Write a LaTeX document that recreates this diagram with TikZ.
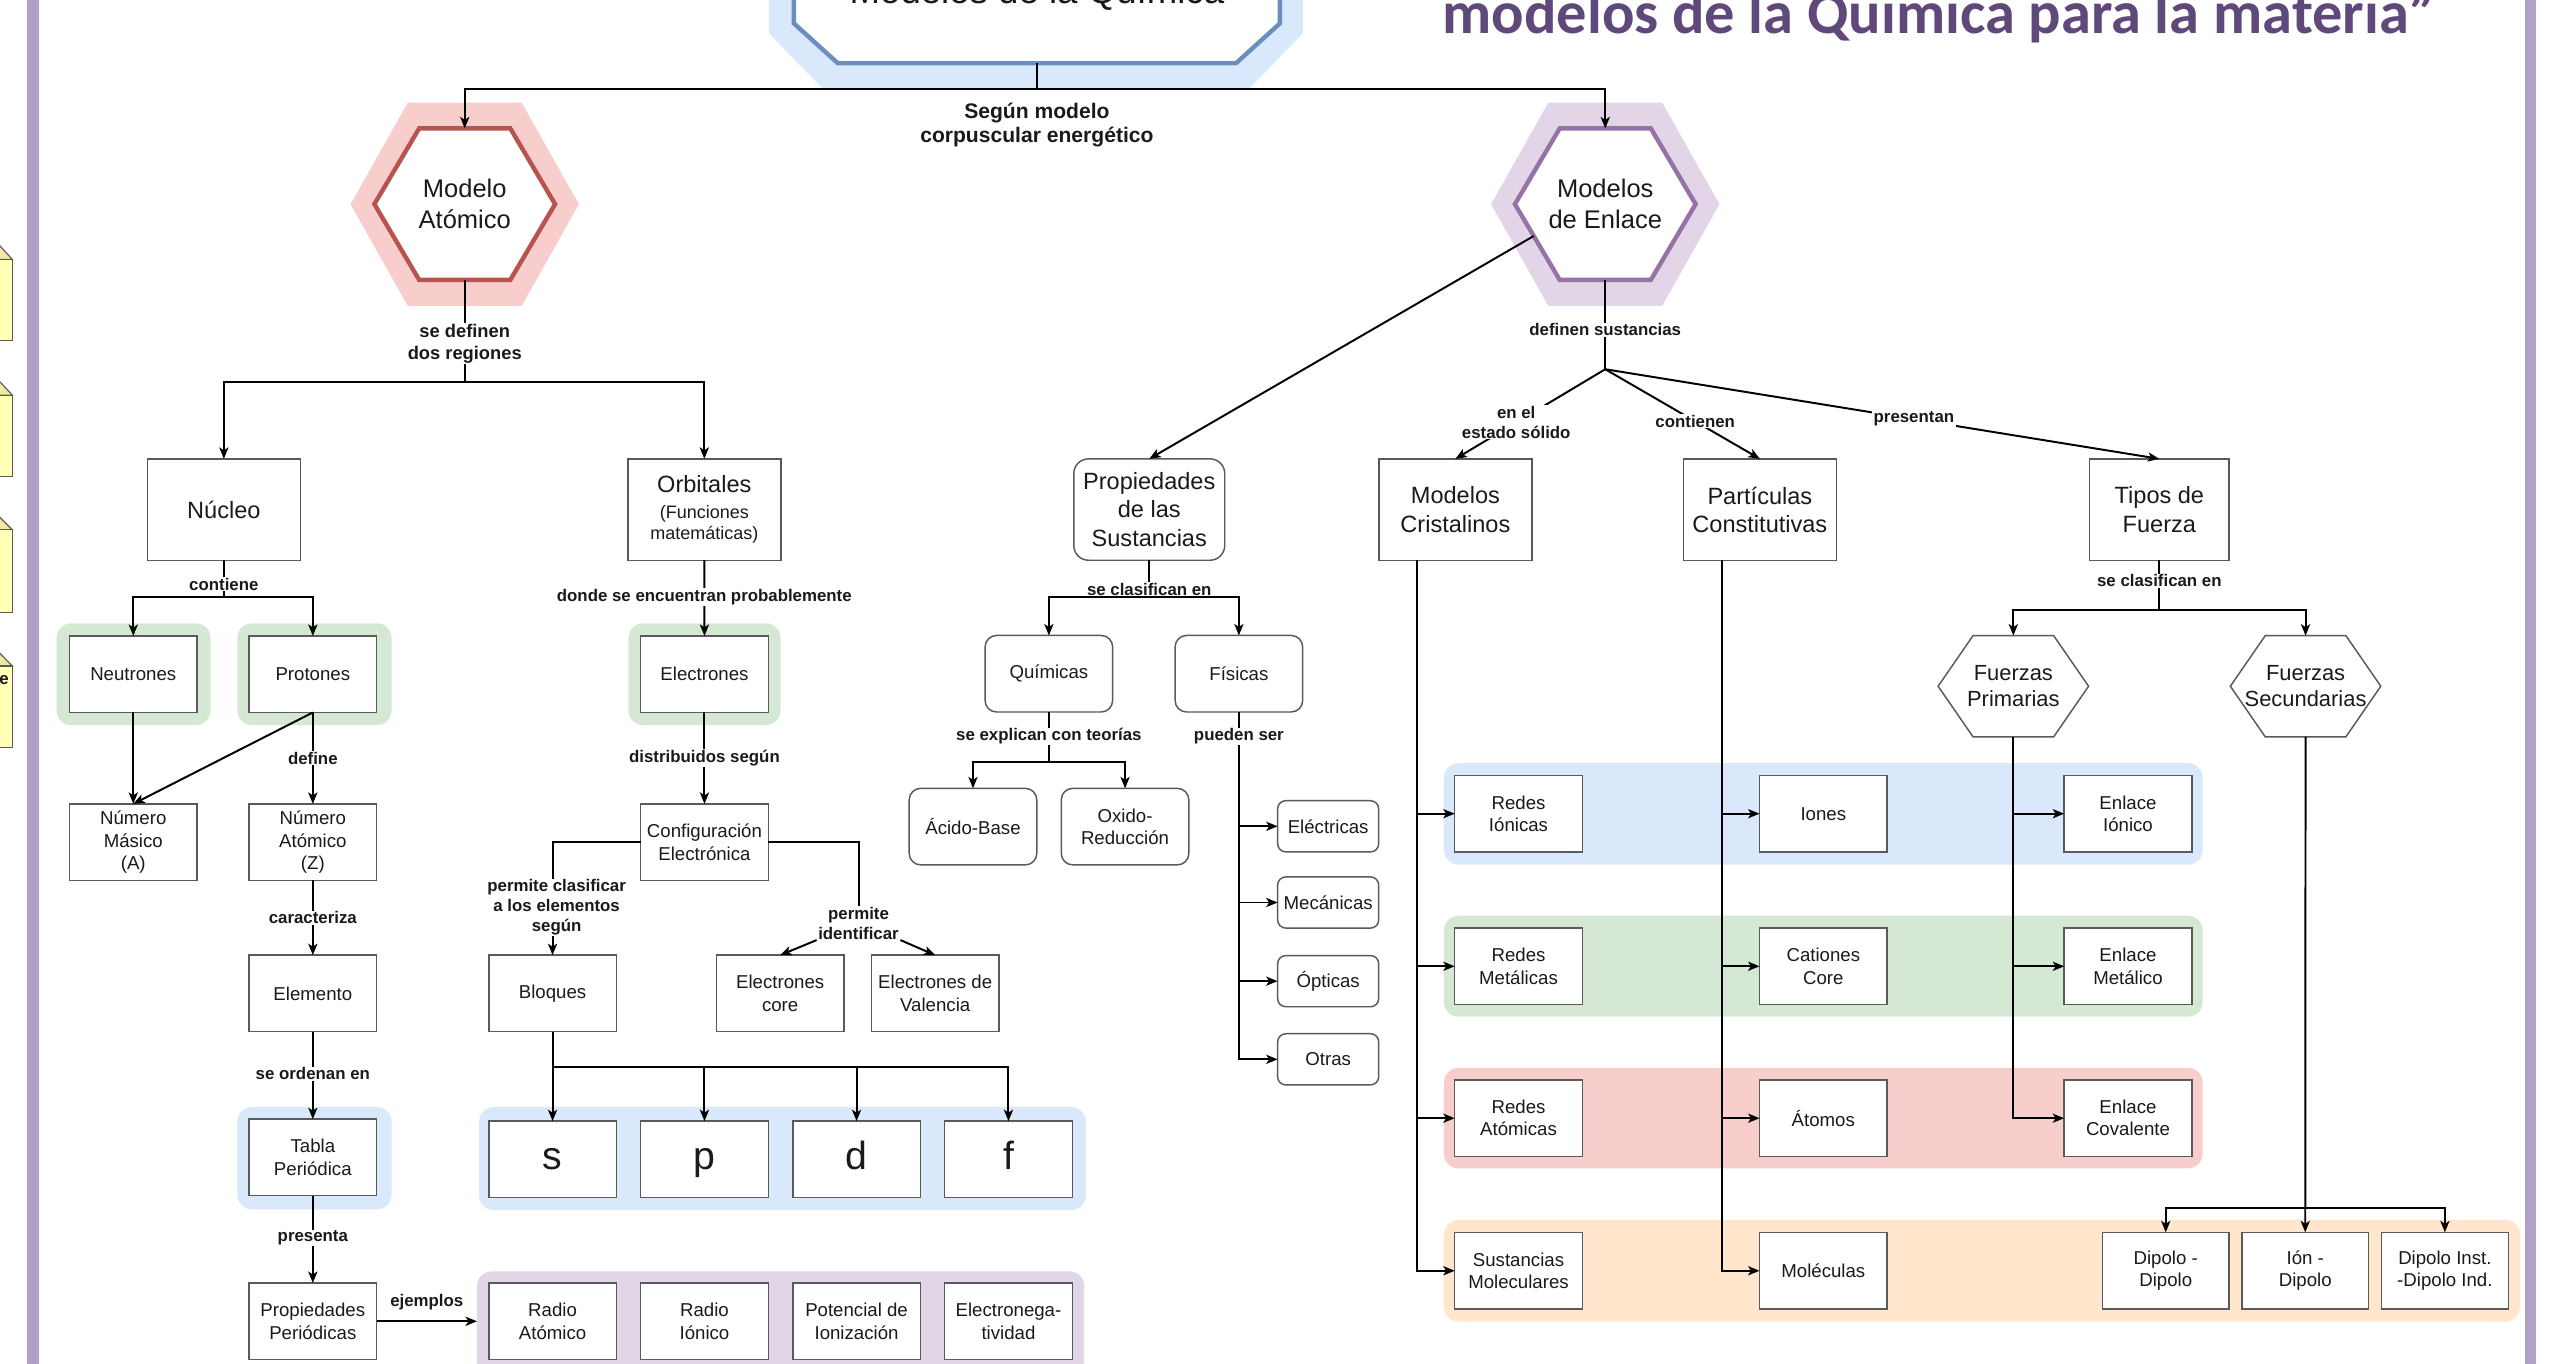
\documentclass[tikz,border=0pt]{standalone}
\usepackage{fontspec}
\setmainfont{Liberation Sans}
\newfontfamily\titlefont{Carlito}
\usetikzlibrary{arrows.meta,calc}
\definecolor{halogreen}{HTML}{D5E8D4}
\definecolor{haloblue}{HTML}{DAE8FC}
\definecolor{halored}{HTML}{F8CECC}
\definecolor{haloorange}{HTML}{FFE6CC}
\definecolor{halopurple}{HTML}{E1D5E7}
\definecolor{bdblue}{HTML}{6C8EBF}
\definecolor{bdred}{HTML}{B85450}
\definecolor{bdpurple}{HTML}{9673A6}
\definecolor{bargray}{HTML}{B1A0C7}
\definecolor{titlepurple}{HTML}{5F497A}
\definecolor{boxgray}{HTML}{5A5A5A}
\definecolor{txt}{HTML}{1A1A1A}
\definecolor{yellowface}{HTML}{FFFFB8}
\definecolor{yellowtop}{HTML}{EEEAA6}
\newcommand\fsmall{\fontsize{11.4}{13.6}\selectfont}
\newcommand\fbigbox{\fontsize{14.4}{17.2}\selectfont}
\newcommand\fhexa{\fontsize{15.6}{19.1}\selectfont}
\newcommand\flabel{\fontsize{10.3}{12.2}\selectfont\bfseries}
\newcommand\flabelb{\fontsize{11.2}{13.6}\selectfont\bfseries}
\newcommand\ftoplabel{\fontsize{12.9}{14.3}\selectfont\bfseries}
\newcommand\ffuerza{\fontsize{13.4}{15.8}\selectfont}
\newcommand\fletter{\fontsize{24}{28}\selectfont}
\begin{document}
\begin{tikzpicture}[x=1pt,y=-1pt,
  every node/.style={text=txt, inner sep=0pt, outer sep=0pt},
  halo/.style={fill=#1, draw=none, rounded corners=9pt},
  smallbox/.style={draw=boxgray, line width=0.9pt, fill=white, align=center, font=\fsmall, minimum width=78pt, minimum height=46.8pt},
  bigbox/.style={smallbox, font=\fbigbox, minimum width=93.5pt, minimum height=62pt},
  rndbox/.style={smallbox, rounded corners=7pt},
  tinybox/.style={smallbox, rounded corners=5pt, minimum width=61.8pt, minimum height=31.3pt},
  letterbox/.style={smallbox, font=\fletter, text height=17pt, text depth=5pt},
  lbl/.style={fill=white, font=\flabel, align=center, inner xsep=1pt, inner ysep=0.5pt},
  conn/.style={draw=black, line width=1.2pt},
  arrc/.style={conn, -{Stealth[length=7pt,width=5.6pt,inset=1.8pt]}},
  hexline/.style={draw=boxgray, line width=0.9pt, fill=white, line join=miter},
]
\useasboundingbox (0,0) rectangle (1560,834);
\fill[white] (0,0) rectangle (1560,834);

% side bars and cut-off yellow boxes
\fill[bargray] (16.7,-1) rectangle (23.8,835);
\fill[bargray] (1544,-1) rectangle (1550.6,835);
\foreach \t/\f/\b in {150.4/158.6/208.4, 233.5/241.6/291.5, 316.5/324/374.3, 399.6/407.3/456.9} {
  \filldraw[fill=yellowtop, draw=boxgray, line width=0.7pt] (-10,\t) -- (0,\t) -- (7.5,\f) -- (-10,\f) -- cycle;
  \filldraw[fill=yellowface, draw=boxgray, line width=0.7pt] (-10,\f) rectangle (7.5,\b);
}
\node[font=\flabel, anchor=east] (ecut) at (5.3,415.8) {e};

% titles
\fill[haloblue] (470.3,-20) -- (470.3,20.4) -- (503,54) -- (764,54) -- (796.7,20.4) -- (796.7,-20) -- cycle;
\draw[bdblue, line width=2.7pt, fill=white, line join=miter] (485.5,-20) -- (485.5,14.3) -- (512.4,38.7) -- (755.8,38.7) -- (782.7,14.3) -- (782.7,-20);
\node[minimum width=297.2pt, minimum height=58.7pt] (title) at (634.1,9.35) {};
\node[font=\fontsize{22.4}{26}\selectfont, anchor=base] (titletext) at (634.1,2.4) {Modelos de la Química};
\node[anchor=base west, font=\titlefont\bfseries\fontsize{37}{40}\selectfont, text=titlepurple] (maintitle) at (882.1,20.4) {modelos de la Química para la materia”};

% halos
\path[halo=halogreen] (34.6,381.2) rectangle (128.8,443.4);
\path[halo=halogreen] (145.1,381.2) rectangle (239.5,443.4);
\path[halo=halogreen] (384.3,381.2) rectangle (477.3,443.4);
\path[halo=haloblue] (145.1,677) rectangle (239.5,739.5);
\path[halo=haloblue] (293,677) rectangle (664,740);
\node[halo=halopurple, minimum width=371.3pt, minimum height=72.5pt] (phalo) at (477.35,813.75) {};
\path[halo=haloblue] (883,466.7) rectangle (1347,528.7);
\path[halo=halogreen] (883,560) rectangle (1347,621.7);
\path[halo=halored] (883,653) rectangle (1347,714.5);
\path[halo=haloorange] (883,746) rectangle (1541,808.2);

% hexagon Modelo Atomico
\node[minimum width=139.6pt, minimum height=124.2pt] (atomh) at (284.2,124.9) {};
\fill[halored] (atomh.west) -- ([xshift=34.95pt]atomh.north west) -- ([xshift=-34.95pt]atomh.north east) -- (atomh.east) -- ([xshift=-34.95pt]atomh.south east) -- ([xshift=34.95pt]atomh.south west) -- cycle;
\node[minimum width=110.5pt, minimum height=92.7pt] (atom) at (284.2,124.85) {};
\draw[bdred, line width=2.7pt, fill=white, line join=miter] (atom.west) -- ([xshift=27.4pt]atom.north west) -- ([xshift=-27.4pt]atom.north east) -- (atom.east) -- ([xshift=-27.4pt]atom.south east) -- ([xshift=27.4pt]atom.south west) -- cycle;
\node[font=\fhexa, align=center] (atomtext) at (atom) {Modelo\\Atómico};

% hexagon Modelos de Enlace
\node[minimum width=139.6pt, minimum height=124.2pt] (enlh) at (981.65,124.9) {};
\fill[halopurple] (enlh.west) -- ([xshift=34.95pt]enlh.north west) -- ([xshift=-34.95pt]enlh.north east) -- (enlh.east) -- ([xshift=-34.95pt]enlh.south east) -- ([xshift=34.95pt]enlh.south west) -- cycle;
\node[minimum width=110.5pt, minimum height=92.7pt] (enl) at (981.65,124.85) {};
\draw[bdpurple, line width=2.7pt, fill=white, line join=miter] (enl.west) -- ([xshift=27.4pt]enl.north west) -- ([xshift=-27.4pt]enl.north east) -- (enl.east) -- ([xshift=-27.4pt]enl.south east) -- ([xshift=27.4pt]enl.south west) -- cycle;
\node[font=\fhexa, align=center] (enltext) at (enl) {Modelos\\de Enlace};

% big boxes
\node[bigbox] (nuc) at (136.9,311.6) {Núcleo};
\node[bigbox, font=\fontsize{11}{13}\selectfont] (orb) at (430.7,311.6) {{\fbigbox Orbitales}\\[2.5pt](Funciones\\matemáticas)};
\node[bigbox, rounded corners=9pt, minimum width=92.3pt] (props) at (702.8,311.6) {Propiedades\\de las\\Sustancias};
\node[bigbox] (crist) at (890,311.6) {Modelos\\Cristalinos};
\node[bigbox] (part) at (1076.2,311.6) {Partículas\\Constitutivas};
\node[bigbox, minimum width=85.2pt] (tipos) at (1320.5,311.6) {Tipos de\\Fuerza};

% left column boxes
\node[smallbox] (neu) at (81.5,412.3) {Neutrones};
\node[smallbox] (pro) at (191.3,412.3) {Protones};
\node[smallbox] (ele) at (430.8,412.3) {Electrones};
\node[smallbox] (mas) at (81.5,515) {Número\\Másico\\(A)};
\node[smallbox] (nat) at (191.3,515) {Número\\Atómico\\(Z)};
\node[smallbox] (conf) at (430.8,515) {Configuración\\Electrónica};
\node[smallbox] (elem) at (191.3,607.5) {Elemento};
\node[smallbox] (bloq) at (337.9,607.5) {Bloques};
\node[smallbox] (core) at (477.1,607.5) {Electrones\\core};
\node[smallbox] (val) at (571.9,607.5) {Electrones de\\Valencia};
\node[smallbox] (tabla) at (191.3,707.8) {Tabla\\Periódica};
\node[letterbox] (bs) at (337.9,709) {s};
\node[letterbox] (bp) at (430.8,709) {p};
\node[letterbox] (bd) at (523.8,709) {d};
\node[letterbox] (bf) at (616.7,709) {f};
\node[smallbox] (ppe) at (191.3,808) {Propiedades\\Periódicas};
\node[smallbox] (rat) at (337.9,808) {Radio\\Atómico};
\node[smallbox] (rio) at (430.8,808) {Radio\\Iónico};
\node[smallbox] (pot) at (523.8,808) {Potencial de\\Ionización};
\node[smallbox] (eng) at (616.7,808) {Electronega-\\tividad};

% properties boxes
\node[rndbox] (quim) at (641.4,412) {Químicas};
\node[rndbox] (fis) at (757.6,412) {Físicas};
\node[rndbox] (acid) at (595,505.5) {Ácido-Base};
\node[rndbox] (oxid) at (688,505.5) {Oxido-\\Reducción};
\node[tinybox] (elec) at (812.2,505.3) {Eléctricas};
\node[tinybox] (mec) at (812.2,551.9) {Mecánicas};
\node[tinybox] (opt) at (812.2,600) {Ópticas};
\node[tinybox] (otr) at (812.2,647.8) {Otras};

% right boxes
\node[smallbox] (rion) at (928.6,497.6) {Redes\\Iónicas};
\node[smallbox] (rmet) at (928.6,590.9) {Redes\\Metálicas};
\node[smallbox] (ratm) at (928.6,683.8) {Redes\\Atómicas};
\node[smallbox] (smol) at (928.6,777.1) {Sustancias\\Moleculares};
\node[smallbox] (iones) at (1115,497.6) {Iones};
\node[smallbox] (cat) at (1115,590.9) {Cationes\\Core};
\node[smallbox] (atms) at (1115,683.8) {Átomos};
\node[smallbox] (molc) at (1115,777.1) {Moléculas};
\node[smallbox] (eion) at (1301.3,497.6) {Enlace\\Iónico};
\node[smallbox] (emet) at (1301.3,590.9) {Enlace\\Metálico};
\node[smallbox] (ecov) at (1301.3,683.8) {Enlace\\Covalente};
\node[smallbox, minimum width=77.6pt] (dd) at (1324.4,777) {Dipolo -\\Dipolo};
\node[smallbox, minimum width=77.6pt] (idp) at (1409.7,777) {Ión -\\Dipolo};
\node[smallbox, minimum width=77.6pt] (did) at (1495.1,777) {Dipolo Inst.\\-Dipolo Ind.};

% Fuerzas hexagons
\node[minimum width=92pt, minimum height=61.9pt] (prim) at (1231.2,419.65) {};
\draw[hexline] (prim.west) -- ([xshift=21.35pt]prim.north west) -- ([xshift=-21.35pt]prim.north east) -- (prim.east) -- ([xshift=-21.35pt]prim.south east) -- ([xshift=21.35pt]prim.south west) -- cycle;
\node[font=\ffuerza, align=center] (primtext) at (prim) {Fuerzas\\Primarias};
\node[minimum width=92pt, minimum height=61.9pt] (sec) at (1409.9,419.65) {};
\draw[hexline] (sec.west) -- ([xshift=21.35pt]sec.north west) -- ([xshift=-21.35pt]sec.north east) -- (sec.east) -- ([xshift=-21.35pt]sec.south east) -- ([xshift=21.35pt]sec.south west) -- cycle;
\node[font=\ffuerza, align=center] (sectext) at (sec) {Fuerzas\\Secundarias};

% label not lying on a line
\node[lbl] (lpi) at (525,564.5) {permite\\identificar};

% connectors
\coordinate (j0) at (634.1,54.6);
\draw[conn] (title.south) -- (j0);
\draw[arrc] (j0) -| (atom.north);
\draw[arrc] (j0) -| (enl.north);

\coordinate (j1) at (284.2,233.4);
\draw[conn] (atom.south) -- (j1);
\draw[arrc] (j1) -| (nuc.north);
\draw[arrc] (j1) -| (orb.north);

\coordinate (j2) at (136.9,365.3);
\draw[conn] (nuc.south) -- (j2);
\draw[arrc] (j2) -| (neu.north);
\draw[arrc] (j2) -| (pro.north);

\draw[arrc] (orb.south) -- (ele.north);
\draw[arrc] (neu.south) -- (mas.north);
\draw[arrc] (pro.south) -- (mas.north);
\draw[arrc] (pro.south) -- (nat.north);
\draw[arrc] (nat.south) -- (elem.north);
\draw[arrc] (elem.south) -- (tabla.north);
\draw[arrc] (tabla.south) -- (ppe.north);
\draw[arrc] (ppe.east) -- (ppe.east -| phalo.west);
\draw[arrc] (ele.south) -- (conf.north);
\draw[arrc] (conf.west) -| (bloq.north);
\draw[conn] (conf.east) -| (lpi.north);
\draw[arrc] (lpi.south west) -- (core.north);
\draw[arrc] (lpi.south east) -- (val.north);

\coordinate (j3) at (337.9,652.3);
\draw[conn] (bloq.south) -- (j3);
\draw[arrc] (j3) -| (bs.north);
\draw[arrc] (j3) -| (bp.north);
\draw[arrc] (j3) -| (bd.north);
\draw[arrc] (j3) -| (bf.north);

\draw[arrc] ($(enl.west)!0.42!([xshift=27.4pt]enl.south west)$) -- (props.north);

\coordinate (j4) at (702.8,365);
\draw[conn] (props.south) -- (j4);
\draw[arrc] (j4) -| (quim.north);
\draw[arrc] (j4) -| (fis.north);

\coordinate (j5) at (641.4,466.1);
\draw[conn] (quim.south) -- (j5);
\draw[arrc] (j5) -| (acid.north);
\draw[arrc] (j5) -| (oxid.north);

\draw[arrc] (fis.south) |- (elec.west);
\draw[arrc] (fis.south) |- (mec.west);
\draw[arrc] (fis.south) |- (opt.west);
\draw[arrc] (fis.south) |- (otr.west);

\coordinate (j6) at (981.65,225.8);
\draw[conn] (enl.south) -- (j6);
\draw[arrc] (j6) -- (crist.north) node[lbl, pos=0.594] (l9) {en el\\estado sólido};
\draw[arrc] (j6) -- (part.north) node[lbl, pos=0.582] (l10) {contienen};
\draw[arrc] (j6) -- (tipos.north) node[lbl, pos=0.557] (l11) {presentan};

\coordinate (j7) at (1320.5,373.2);
\draw[conn] (tipos.south) -- (j7);
\draw[arrc] (j7) -| (prim.north);
\draw[arrc] (j7) -| (sec.north);

\draw[arrc] ([xshift=-23.4pt]crist.south) |- (rion.west);
\draw[arrc] ([xshift=-23.4pt]crist.south) |- (rmet.west);
\draw[arrc] ([xshift=-23.4pt]crist.south) |- (ratm.west);
\draw[arrc] ([xshift=-23.4pt]crist.south) |- (smol.west);
\draw[arrc] ([xshift=-23.4pt]part.south) |- (iones.west);
\draw[arrc] ([xshift=-23.4pt]part.south) |- (cat.west);
\draw[arrc] ([xshift=-23.4pt]part.south) |- (atms.west);
\draw[arrc] ([xshift=-23.4pt]part.south) |- (molc.west);
\draw[arrc] (prim.south) |- (eion.west);
\draw[arrc] (prim.south) |- (emet.west);
\draw[arrc] (prim.south) |- (ecov.west);
\draw[arrc] (sec.south) -- (idp.north);
\coordinate (j8) at (1409.9,738.5);
\draw[arrc] (j8) -| (dd.north);
\draw[arrc] (j8) -| (did.north);

% labels on lines
\node[font=\ftoplabel, align=center] (l0) at (634.1,76.5) {Según modelo\\corpuscular energético};
\node[lbl, font=\flabelb] (l1) at (284.2,210.2) {se definen\\dos regiones};
\node[lbl] (l2) at (136.9,357.3) {contiene};
\node[lbl] (l3) at (430.7,365) {donde se encuentran probablemente};
\node[lbl] (l4) at (191.3,463.6) {define};
\node[lbl] (l5) at (430.8,463.5) {distribuidos según};
\node[lbl] (l6) at (191.3,561.3) {caracteriza};
\node[lbl] (l7) at (191.3,656.5) {se ordenan en};
\node[lbl] (l8) at (191.3,756.8) {presenta};
\node[lbl, fill=none] (l12) at (261,796.3) {ejemplos};
\node[lbl] (l13) at (340.4,554.8) {permite clasificar\\a los elementos\\según};
\node[lbl] (l14) at (702.8,360.4) {se clasifican en};
\node[lbl] (l15) at (641.4,450.3) {se explican con teorías};
\node[lbl] (l16) at (757.6,450.3) {pueden ser};
\node[lbl] (l17) at (981.65,201.7) {definen sustancias};
\node[lbl] (l18) at (1320.5,355) {se clasifican en};
\end{tikzpicture}
\end{document}
